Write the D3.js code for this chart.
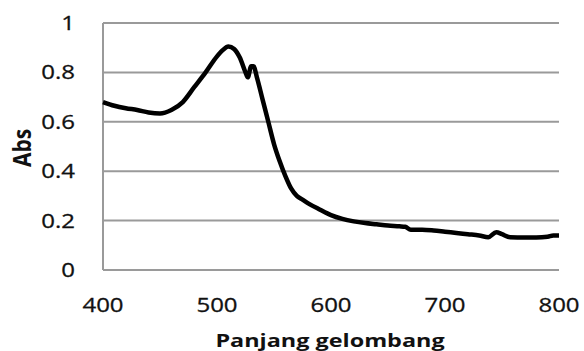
<!DOCTYPE html>
<html>
<head>
<meta charset="utf-8">
<script src="https://cdn.jsdelivr.net/npm/d3@7"></script>
<style>
  body { margin: 0; background: #fff; }
  text { font-family: 'Open Sans', sans-serif; fill: #111; }
</style>
</head>
<body>
<svg id="chart" width="584" height="351"></svg>
<script>
// wavelength (nm) and absorbance
const wavelengths = [400, 410, 420, 430, 440, 450, 460, 470, 480, 490, 500, 505, 510, 515, 520, 525, 527,
  530, 532, 535, 540, 545, 550, 555, 560, 565, 570, 575, 580, 590, 600, 610, 620, 630, 640, 650, 660, 665,
  670, 680, 690, 700, 710, 720, 730, 738, 745, 750, 757, 770, 780, 790, 795, 800];
const absorbance = [0.68, 0.665, 0.655, 0.648, 0.638, 0.634, 0.648, 0.68, 0.74, 0.8, 0.865, 0.89, 0.905, 0.895, 0.86, 0.8, 0.78,
  0.825, 0.825, 0.78, 0.69, 0.6, 0.51, 0.44, 0.38, 0.33, 0.3, 0.285, 0.27, 0.245, 0.222, 0.207, 0.197, 0.19, 0.185, 0.18, 0.177, 0.175,
  0.163, 0.163, 0.16, 0.155, 0.15, 0.145, 0.14, 0.133, 0.153, 0.145, 0.133, 0.132, 0.132, 0.135, 0.14, 0.14];
const xTicks = [400, 500, 600, 700, 800];
const yTicks = [0, 0.2, 0.4, 0.6, 0.8, 1];

const svg = d3.select('#chart');
const margin = { top: 23, right: 25, bottom: 81, left: 103 };
const width = +svg.attr('width') - margin.left - margin.right;
const height = +svg.attr('height') - margin.top - margin.bottom;
const g = svg.append('g').attr('transform', `translate(${margin.left},${margin.top})`);

const x = d3.scaleLinear().domain([400, 800]).range([0, width]);
const y = d3.scaleLinear().domain([0, 1]).range([height, 0]);

// horizontal grid lines
g.append('g')
  .selectAll('line')
  .data(yTicks.filter(d => d > 0))
  .enter()
  .append('line')
  .attr('x1', 0)
  .attr('x2', width)
  .attr('y1', d => y(d))
  .attr('y2', d => y(d))
  .attr('stroke', '#9a9a9a')
  .attr('stroke-width', 2);

// axes lines (no ticks)
g.append('line')
  .attr('x1', 0).attr('x2', width)
  .attr('y1', height).attr('y2', height)
  .attr('stroke', '#9a9a9a').attr('stroke-width', 2);
g.append('line')
  .attr('x1', 0).attr('x2', 0)
  .attr('y1', 0).attr('y2', height)
  .attr('stroke', '#9a9a9a').attr('stroke-width', 2);

// y tick labels
g.append('g')
  .selectAll('text')
  .data(yTicks)
  .enter()
  .append('text')
  .attr('transform', d => `translate(-28,${y(d) + 7}) scale(1.2,1)`)
  .attr('text-anchor', 'end')
  .attr('font-size', 20)
  .attr('stroke', '#111')
  .attr('stroke-width', 0.3)
  .text(d => d);

// x tick labels
g.append('g')
  .selectAll('text')
  .data(xTicks)
  .enter()
  .append('text')
  .attr('transform', d => `translate(${x(d)},${height + 42}) scale(1.2,1)`)
  .attr('text-anchor', 'middle')
  .attr('font-size', 20)
  .attr('stroke', '#111')
  .attr('stroke-width', 0.3)
  .text(d => d);

// axis titles
svg.append('text')
  .attr('transform', 'translate(330,347) scale(1.3,1)')
  .attr('text-anchor', 'middle')
  .attr('font-size', 18)
  .attr('font-weight', 'bold')
  .text('Panjang gelombang');

svg.append('text')
  .attr('transform', 'translate(31,148) rotate(-90) scale(1,1.15)')
  .attr('text-anchor', 'middle')
  .attr('font-size', 21)
  .attr('font-weight', 'bold')
  .text('Abs');

// spectrum line
const line = d3.line()
  .x((d, i) => x(wavelengths[i]))
  .y(d => y(d))
  .curve(d3.curveMonotoneX);

g.append('path')
  .datum(absorbance)
  .attr('fill', 'none')
  .attr('stroke', '#000')
  .attr('stroke-width', 4.5)
  .attr('stroke-linejoin', 'round')
  .attr('d', line);
</script>
</body>
</html>
